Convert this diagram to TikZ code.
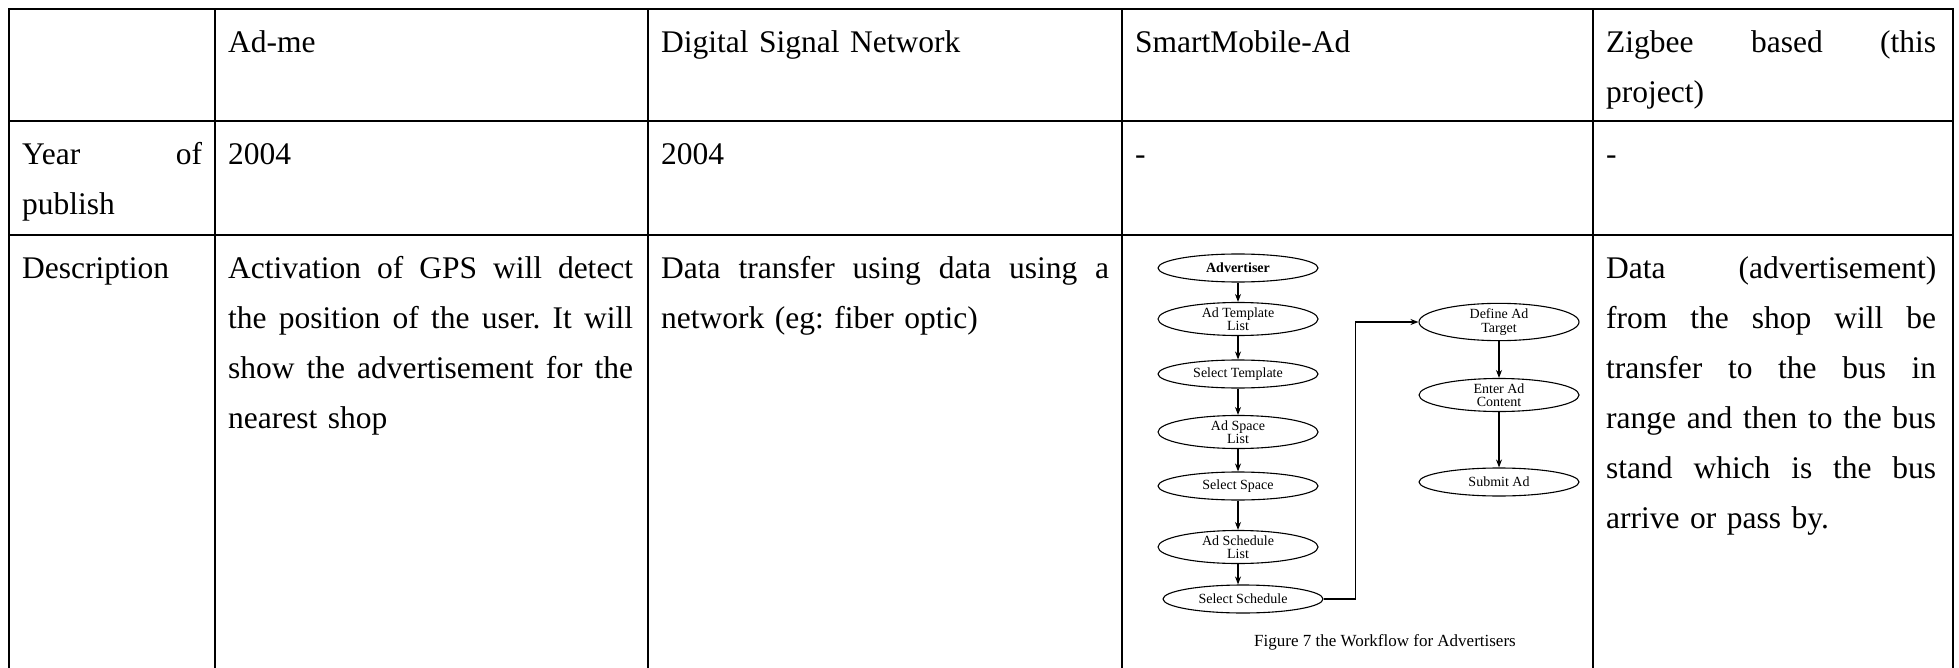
\documentclass[tikz,border=0pt]{standalone}
\usepackage{fontspec}
\setmainfont{Liberation Serif}
\usetikzlibrary{arrows.meta,shapes.geometric}
\newcommand{\jl}[2]{\makebox[#1pt][s]{\spaceskip=0pt\relax\xspaceskip=0pt\relax\frenchspacing #2}}
\newcommand{\fs}{\rule{0pt}{25pt}}
\begin{document}
\begin{tikzpicture}[x=1pt,y=-1pt,
  grid/.style={line width=2.5pt,black},
  cell/.style={anchor=north west,inner sep=0pt,text width=#1pt,align=left,
    font=\fontsize{31.5}{50}\selectfont\frenchspacing},
  fc/.style={ellipse,draw=black,line width=1.1pt,fill=white,minimum width=160pt,
    minimum height=28pt,inner sep=0pt,align=center,
    font=\fontsize{14}{13.5}\selectfont},
  arr/.style={draw=black,line width=1.1pt,-{Stealth[length=8pt,width=6pt]}}]
\useasboundingbox (0,0) rectangle (1959,668);
% grid
\draw[grid] (9,668) -- (9,9) -- (1953,9) -- (1953,668);
\draw[grid] (9,121) -- (1953,121);
\draw[grid] (9,235) -- (1953,235);
\foreach \x in {215,648,1122,1593} \draw[grid] (\x,9) -- (\x,668);
% header row (first baseline 52)
\node[cell=300] (h1) at (228,27) {\fs Ad-me};
\node[cell=440] (h2) at (661,27) {\fs Digital Signal Network};
\node[cell=440] (h3) at (1135,27) {\fs SmartMobile-Ad};
\node[cell=330] (h4) at (1606,27) {\fs\jl{330}{Zigbee based (this}\\project)};
% year row (first baseline 164)
\node[cell=180] (y0) at (22,139) {\fs\jl{180}{Year of}\\publish};
\node[cell=300] (y1) at (228,139) {\fs 2004};
\node[cell=300] (y2) at (661,139) {\fs 2004};
\node[cell=300] (y3) at (1135,139) {\fs -};
\node[cell=300] (y4) at (1606,139) {\fs -};
% description row (first baseline 278)
\node[cell=180] (d0) at (22,253) {\fs Description};
\node[cell=405] (d1) at (228,253) {\fs\jl{405}{Activation of GPS will detect}\\
  \jl{405}{the position of the user. It will}\\
  \jl{405}{show the advertisement for the}\\nearest shop};
\node[cell=448] (d2) at (661,253) {\fs\jl{448}{Data transfer using data using a}\\
  network (eg: fiber optic)};
\node[cell=330] (d4) at (1606,253) {\fs\jl{330}{Data (advertisement)}\\
  \jl{330}{from the shop will be}\\
  \jl{330}{transfer to the bus in}\\
  \jl{330}{range and then to the bus}\\
  \jl{330}{stand which is the bus}\\
  arrive or pass by.};
% flowchart
\node[fc] (adv) at (1238,268) {\textbf{Advertiser}};
\node[fc] (atl) at (1238,319) {Ad Template\\List};
\node[fc] (st) at (1238,374) {Select Template};
\node[fc] (asl) at (1238,432) {Ad Space\\List};
\node[fc] (ss) at (1238,486) {Select Space};
\node[fc] (ascl) at (1238,547) {Ad Schedule\\List};
\node[fc] (ssc) at (1243,599) {Select Schedule};
\node[fc] (dat) at (1499,322) {Define Ad\\Target};
\node[fc] (eac) at (1499,395) {Enter Ad\\Content};
\node[fc] (sa) at (1499,482) {Submit Ad};
\draw[arr] (adv) -- (atl);
\draw[arr] (atl) -- (st);
\draw[arr] (st) -- (asl);
\draw[arr] (asl) -- (ss);
\draw[arr] (ss) -- (ascl);
\draw[arr] (ascl.south) -- (ascl.south |- ssc.north);
\draw[arr] (ssc.east) -- ++(32,0) |- (dat.west);
\draw[arr] (dat) -- (eac);
\draw[arr] (eac) -- (sa);
\node[font=\fontsize{17}{17}\selectfont] (cap) at (1385,642) {Figure 7 the Workflow for Advertisers};
\end{tikzpicture}
\end{document}
